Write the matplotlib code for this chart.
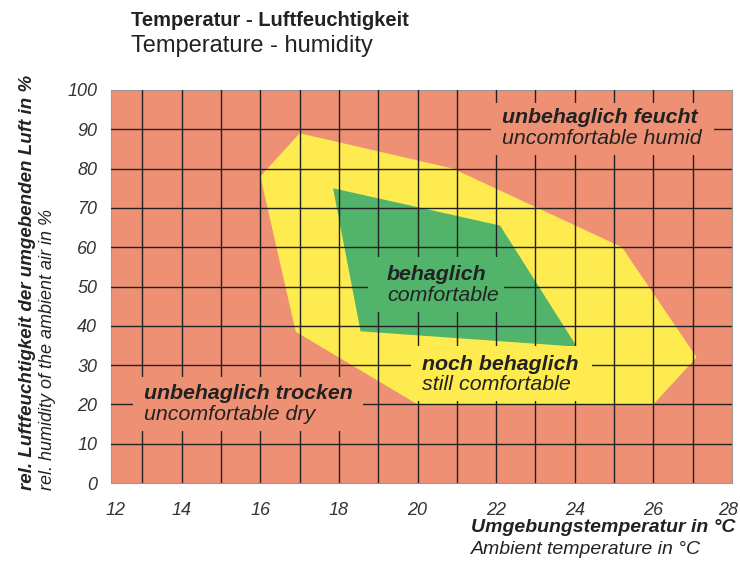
import matplotlib.pyplot as plt
import matplotlib.transforms as mtransforms
from matplotlib.patches import Polygon, Rectangle

plt.rcParams['font.family'] = ['Liberation Sans', 'DejaVu Sans']

# zones (temperature in degC, rel. humidity in %)
still_t = [16.0, 17.0, 20.9, 25.2, 27.1, 26.0, 20.0, 16.9]
still_h = [78, 89, 80, 60, 32, 20, 20, 38.5]
comf_t = [17.85, 22.1, 24.05, 18.55]
comf_h = [75, 65.5, 34.7, 38.6]

x_ticks = [12, 14, 16, 18, 20, 22, 24, 26, 28]
y_ticks = [0, 10, 20, 30, 40, 50, 60, 70, 80, 90, 100]

salmon = '#EE9074'
yellow = '#FDEB50'
green = '#52B36B'
dark = '#222222'

fig = plt.figure(figsize=(7.4, 5.67), dpi=100)
ax = fig.add_axes([111 / 740, 84 / 567, 621 / 740, 393 / 567])
ax.set_facecolor(salmon)
ax.set_xlim(12.2, 28)
ax.set_ylim(0, 100)

ax.add_patch(Polygon(list(zip(still_t, still_h)), closed=True, fc=yellow, ec='none', zorder=1))
ax.add_patch(Polygon(list(zip(comf_t, comf_h)), closed=True, fc=green, ec='none', zorder=2))

# grid
for t in range(13, 28):
    ax.axvline(t, color=dark, lw=1.0, zorder=3)
for h in range(10, 100, 10):
    ax.axhline(h, color=dark, lw=1.0, zorder=3)

# label boxes (cover the grid)
boxes = [
    (21.87, 83.4, 5.67, 13.2, salmon),
    (18.75, 43.4, 3.45, 14.0, green),
    (19.84, 20.9, 4.61, 14.0, yellow),
    (12.75, 13.2, 5.85, 13.8, salmon),
]
for bx, by, bw, bh, c in boxes:
    ax.add_patch(Rectangle((bx, by), bw, bh, fc=c, ec='none', zorder=4))

labels = [
    (22.15, 92.9, 87.6, 'unbehaglich feucht', 'uncomfortable humid'),
    (19.22, 53.0, 47.8, 'behaglich', 'comfortable'),
    (20.1, 30.2, 25.1, 'noch behaglich', 'still comfortable'),
    (13.03, 22.8, 17.5, 'unbehaglich trocken', 'uncomfortable dry'),
]
for lx, y1, y2, de, en in labels:
    ax.text(lx, y1, de, fontsize=15.4, fontweight='bold', fontstyle='italic',
            color=dark, va='center', ha='left', zorder=5)
    ax.text(lx, y2, en, fontsize=15.4, fontstyle='italic',
            color=dark, va='center', ha='left', zorder=5)

for s in ax.spines.values():
    s.set_color('#999999')
    s.set_linewidth(0.8)

tick_pos = [12.2] + x_ticks[1:]
ax.set_xticks(tick_pos)
ax.set_xticklabels([str(t) for t in x_ticks])
ax.set_yticks(y_ticks)
ax.set_yticklabels([str(h) for h in y_ticks])
ax.tick_params(length=0, labelsize=13, colors='#333333')
ax.tick_params(axis='x', pad=14)
ax.tick_params(axis='y', pad=10)
for lab in ax.get_xticklabels() + ax.get_yticklabels():
    lab.set_fontstyle('italic')
last = ax.get_xticklabels()[-1]
last.set_transform(last.get_transform() + mtransforms.ScaledTranslation(-4 / 100, 0, fig.dpi_scale_trans))
first = ax.get_xticklabels()[0]
first.set_transform(first.get_transform() + mtransforms.ScaledTranslation(5 / 100, 0, fig.dpi_scale_trans))

fig.text(131 / 740, 1 - 20 / 567, 'Temperatur - Luftfeuchtigkeit', fontsize=14.5,
         fontweight='bold', color=dark, va='center', ha='left')
fig.text(131 / 740, 1 - 46 / 567, 'Temperature - humidity', fontsize=17,
         color=dark, va='center', ha='left')

fig.text(471 / 740, 1 - 527 / 567, 'Umgebungstemperatur in °C', fontsize=14,
         fontweight='bold', fontstyle='italic', color=dark, va='center', ha='left')
fig.text(471 / 740, 1 - 550 / 567, 'Ambient temperature in °C', fontsize=14,
         fontstyle='italic', color=dark, va='center', ha='left')

fig.text(27 / 740, 1 - 490 / 567, 'rel. Luftfeuchtigkeit der umgebenden Luft in %', fontsize=13.5,
         fontweight='bold', fontstyle='italic', color=dark, va='center', ha='left',
         rotation=90, rotation_mode='anchor')
fig.text(47 / 740, 1 - 490 / 567, 'rel. humidity of the ambient air in %', fontsize=13,
         fontstyle='italic', color=dark, va='center', ha='left',
         rotation=90, rotation_mode='anchor')

fig.savefig('out.png', dpi=100)
